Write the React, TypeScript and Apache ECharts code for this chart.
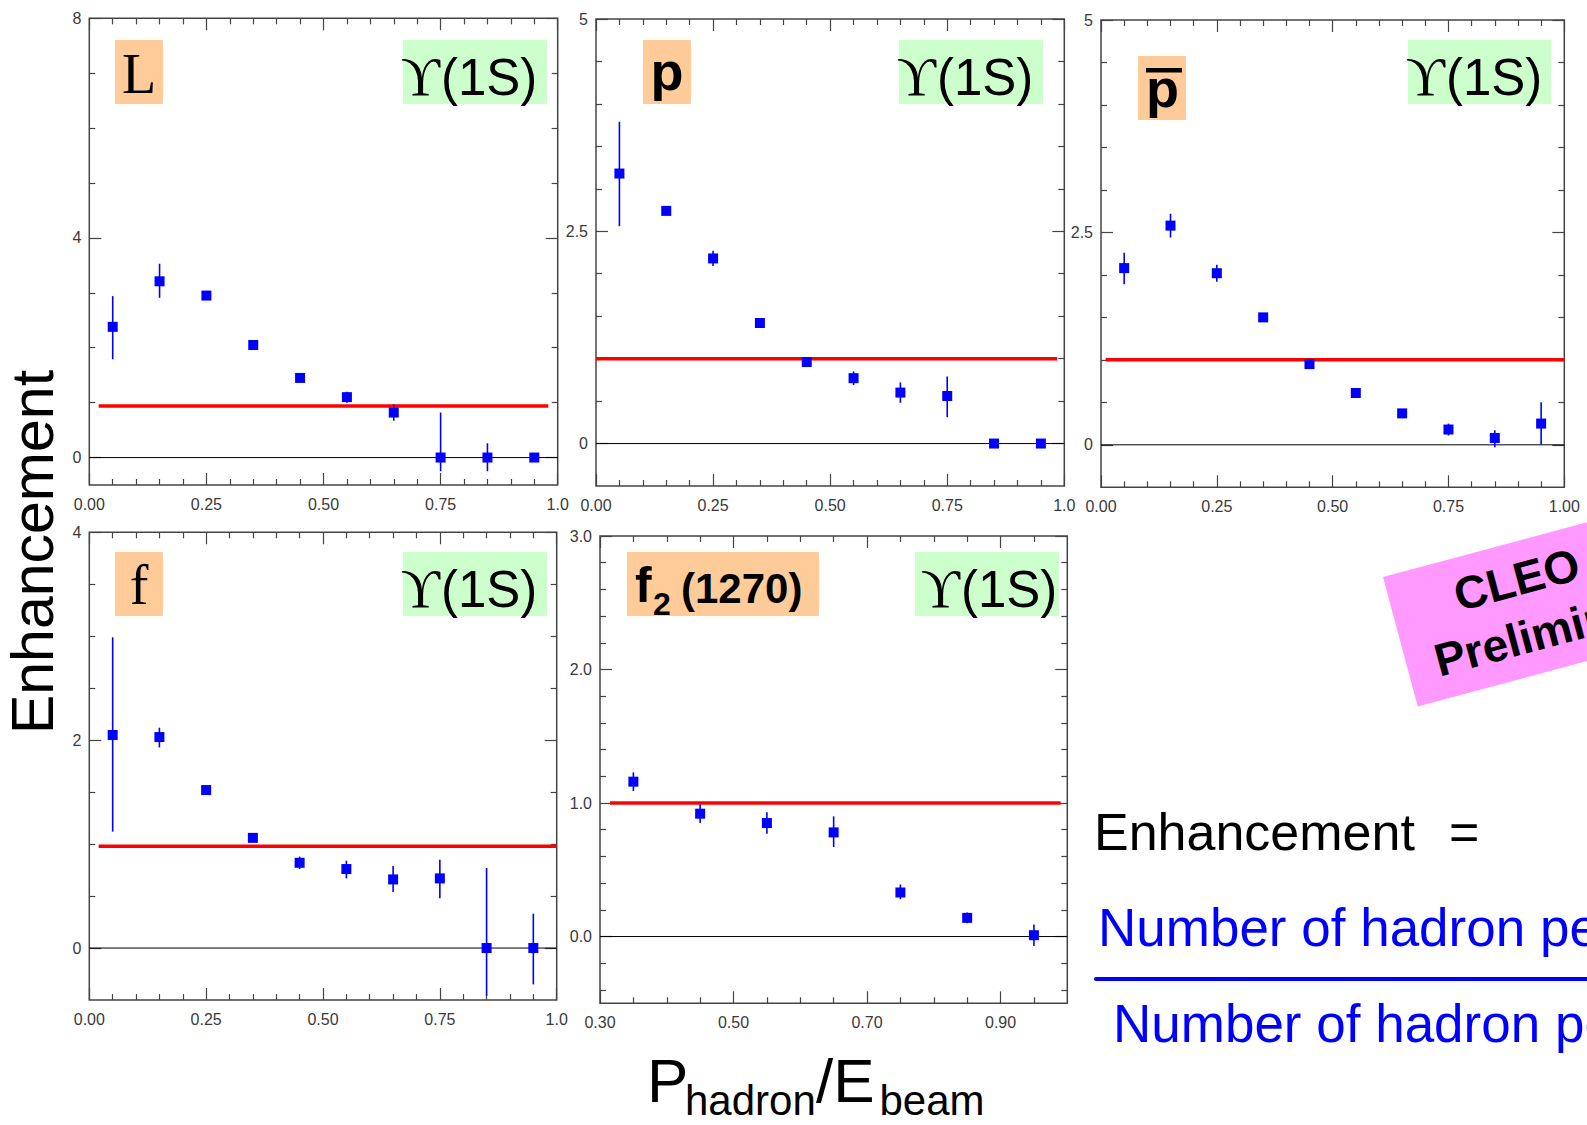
import React, { useEffect, useRef } from 'react';
import * as echarts from 'echarts';

// ---------- data ----------
const xBins = [0.05, 0.15, 0.25, 0.35, 0.45, 0.55, 0.65, 0.75, 0.85, 0.95];
const xBinsF2 = [0.35, 0.45, 0.55, 0.65, 0.75, 0.85, 0.95];

const lambdaY = [2.38, 3.21, 2.95, 2.05, 1.45, 1.1, 0.82, 0.0, 0.0, 0.0];
const lambdaHi = [2.94, 3.53, 3.03, 2.09, 1.49, 1.2, 0.97, 0.82, 0.26, 0.0];
const lambdaLo = [1.79, 2.91, 2.87, 2.01, 1.41, 1.0, 0.67, -0.25, -0.25, 0.0];

const protonY = [3.18, 2.74, 2.18, 1.42, 0.96, 0.77, 0.6, 0.56, 0.0, 0.0];
const protonHi = [3.79, 2.76, 2.27, 1.44, 0.98, 0.85, 0.72, 0.79, 0.0, 0.0];
const protonLo = [2.56, 2.72, 2.09, 1.4, 0.94, 0.69, 0.48, 0.31, 0.0, 0.0];

const pbarY = [2.08, 2.58, 2.02, 1.5, 0.95, 0.61, 0.37, 0.18, 0.08, 0.25];
const pbarHi = [2.26, 2.72, 2.12, 1.52, 0.97, 0.63, 0.39, 0.25, 0.17, 0.5];
const pbarLo = [1.89, 2.44, 1.92, 1.48, 0.93, 0.59, 0.35, 0.11, -0.03, 0.0];

const fY = [2.05, 2.03, 1.52, 1.06, 0.82, 0.76, 0.66, 0.67, 0.0, 0.0];
const fHi = [2.99, 2.12, 1.54, 1.1, 0.88, 0.84, 0.79, 0.85, 0.77, 0.33];
const fLo = [1.12, 1.93, 1.5, 1.02, 0.76, 0.67, 0.54, 0.48, -0.46, -0.35];

const f2Y = [1.16, 0.92, 0.85, 0.78, 0.33, 0.14, 0.01];
const f2Hi = [1.23, 0.99, 0.93, 0.9, 0.39, 0.18, 0.09];
const f2Lo = [1.09, 0.85, 0.77, 0.67, 0.28, 0.1, -0.07];

// reference (red) lines: [xStart, xEnd, level]
const redLambda = [0.02, 0.98, 0.94];
const redProton = [0.0, 0.985, 1.0];
const redPbar = [0.01, 1.0, 1.0];
const redF = [0.02, 1.0, 0.98];
const redF2 = [0.315, 0.99, 1.0];

// tick positions / labels
const xMajor01 = [0, 0.25, 0.5, 0.75, 1.0];
const xMinor01 = [0.05, 0.1, 0.15, 0.2, 0.3, 0.35, 0.4, 0.45, 0.55, 0.6, 0.65, 0.7, 0.8, 0.85, 0.9, 0.95];
const xMajorF2 = [0.3, 0.5, 0.7, 0.9];
const xMinorF2 = [0.35, 0.4, 0.45, 0.55, 0.6, 0.65, 0.75, 0.8, 0.85, 0.95];
const yMajorLambda = [0, 4, 8];
const yMinorLambda = [1, 2, 3, 5, 6, 7];
const yMajorP = [0, 2.5, 5];
const yMinorP = [0.5, 1, 1.5, 2, 3, 3.5, 4, 4.5];
const yMajorF = [0, 2, 4];
const yMinorF = [0.5, 1, 1.5, 2.5, 3, 3.5];
const yMajorF2 = [0, 1, 2, 3];
const yMinorF2 = [-0.4, -0.2, 0.2, 0.4, 0.6, 0.8, 1.2, 1.4, 1.6, 1.8, 2.2, 2.4, 2.6, 2.8];

// ---------- styling ----------
const SANS = '"Liberation Sans", Arial, Helvetica, sans-serif';
const SERIF = '"Liberation Serif", "DejaVu Serif", "Times New Roman", serif';
const FRAME = '#444444';
const LABEL = '#3a3a3a';
const BLUE = '#0000ff';
const ORANGE = '#ffcc99';
const GREEN = '#ccffcc';
const PINK = '#ff99ff';

const fmt2 = (v: number) => v.toFixed(2);
const fmtCut = (v: number) => (v === 1 ? '1.0' : v.toFixed(2));
const fmtPlain = (v: number) => String(v);
const fmt1 = (v: number) => v.toFixed(1);

const panels = [
  {
    rect: { left: 89.3, top: 18.3, width: 468.4, height: 466.7 },
    x: xBins, y: lambdaY, lo: lambdaLo, hi: lambdaHi, red: redLambda,
    xMin: 0, xMax: 1, yMin: -0.5, yMax: 8,
    xMajor: xMajor01, xMinor: xMinor01, yMajor: yMajorLambda, yMinor: yMinorLambda,
    xFmt: fmtCut, yFmt: fmtPlain,
  },
  {
    rect: { left: 596, top: 19, width: 468.3, height: 467 },
    x: xBins, y: protonY, lo: protonLo, hi: protonHi, red: redProton,
    xMin: 0, xMax: 1, yMin: -0.5, yMax: 5,
    xMajor: xMajor01, xMinor: xMinor01, yMajor: yMajorP, yMinor: yMinorP,
    xFmt: fmtCut, yFmt: fmtPlain,
  },
  {
    rect: { left: 1101, top: 20, width: 463.3, height: 467.3 },
    x: xBins, y: pbarY, lo: pbarLo, hi: pbarHi, red: redPbar,
    xMin: 0, xMax: 1, yMin: -0.5, yMax: 5,
    xMajor: xMajor01, xMinor: xMinor01, yMajor: yMajorP, yMinor: yMinorP,
    xFmt: fmt2, yFmt: fmtPlain,
  },
  {
    rect: { left: 89.3, top: 532.3, width: 467.4, height: 467.7 },
    x: xBins, y: fY, lo: fLo, hi: fHi, red: redF,
    xMin: 0, xMax: 1, yMin: -0.5, yMax: 4,
    xMajor: xMajor01, xMinor: xMinor01, yMajor: yMajorF, yMinor: yMinorF,
    xFmt: fmtCut, yFmt: fmtPlain,
  },
  {
    rect: { left: 600, top: 536, width: 467.3, height: 467.3 },
    x: xBinsF2, y: f2Y, lo: f2Lo, hi: f2Hi, red: redF2,
    xMin: 0.3, xMax: 1.0, yMin: -0.5, yMax: 3,
    xMajor: xMajorF2, xMinor: xMinorF2, yMajor: yMajorF2, yMinor: yMinorF2,
    xFmt: fmt2, yFmt: fmt1,
  },
];

function buildOption() {
  const grid: any[] = [];
  const xAxis: any[] = [];
  const yAxis: any[] = [];
  const series: any[] = [];

  panels.forEach((p, gi) => {
    grid.push({
      ...p.rect,
      show: true,
      borderColor: FRAME,
      borderWidth: 1.5,
      backgroundColor: '#ffffff',
      containLabel: false,
      outerBoundsMode: 'none',
    });

    const axis = (
      dim: 'x' | 'y',
      position: string,
      ticks: number[],
      len: number,
      labels: number[] | null,
      formatter: (v: number) => string,
    ) => ({
      type: 'value',
      gridIndex: gi,
      position,
      min: dim === 'x' ? p.xMin : p.yMin,
      max: dim === 'x' ? p.xMax : p.yMax,
      axisLine: { show: false, onZero: false },
      splitLine: { show: false },
      axisTick: {
        show: true,
        inside: true,
        length: len,
        customValues: ticks,
        lineStyle: { color: FRAME, width: 1.2 },
      },
      axisLabel: labels
        ? {
            show: true,
            customValues: labels,
            formatter,
            color: LABEL,
            fontSize: 16,
            fontFamily: SANS,
            margin: dim === 'x' ? 11 : 8,
            hideOverlap: false,
          }
        : { show: false },
    });

    xAxis.push(
      axis('x', 'bottom', p.xMajor, 12, p.xMajor, p.xFmt),
      axis('x', 'bottom', p.xMinor, 6, null, p.xFmt),
      axis('x', 'top', p.xMajor, 12, null, p.xFmt),
      axis('x', 'top', p.xMinor, 6, null, p.xFmt),
    );
    yAxis.push(
      axis('y', 'left', p.yMajor, 12, p.yMajor, p.yFmt),
      axis('y', 'left', p.yMinor, 6, null, p.yFmt),
      axis('y', 'right', p.yMajor, 12, null, p.yFmt),
      axis('y', 'right', p.yMinor, 6, null, p.yFmt),
    );

    const xi = gi * 4;
    const yi = gi * 4;

    series.push({
      type: 'line',
      xAxisIndex: xi,
      yAxisIndex: yi,
      data: [[p.xMin, 0], [p.xMax, 0]],
      symbol: 'none',
      silent: true,
      lineStyle: { color: '#000000', width: 1 },
      z: 1,
    });
    series.push({
      type: 'line',
      xAxisIndex: xi,
      yAxisIndex: yi,
      data: [[p.red[0], p.red[2]], [p.red[1], p.red[2]]],
      symbol: 'none',
      silent: true,
      lineStyle: { color: '#ff0000', width: 3.5 },
      z: 2,
    });
    series.push({
      type: 'custom',
      xAxisIndex: xi,
      yAxisIndex: yi,
      silent: true,
      data: p.x.map((xv, i) => [xv, p.lo[i], p.hi[i]]),
      encode: { x: 0, y: [1, 2] },
      renderItem: (_params: any, api: any) => {
        const a = api.coord([api.value(0), api.value(1)]);
        const b = api.coord([api.value(0), api.value(2)]);
        return {
          type: 'line',
          shape: { x1: a[0], y1: a[1], x2: b[0], y2: b[1] },
          style: { stroke: BLUE, lineWidth: 1.6 },
        };
      },
      z: 3,
    });
    series.push({
      type: 'scatter',
      xAxisIndex: xi,
      yAxisIndex: yi,
      data: p.x.map((xv, i) => [xv, p.y[i]]),
      symbol: 'rect',
      symbolSize: 10,
      silent: true,
      itemStyle: { color: BLUE, opacity: 1 },
      z: 4,
    });
  });

  const rect = (x: number, y: number, w: number, h: number, fill: string) => ({
    type: 'rect',
    z: 100,
    shape: { x, y, width: w, height: h },
    style: { fill },
  });
  const text = (
    x: number,
    y: number,
    t: string,
    size: number,
    family: string,
    opts: any = {},
  ) => ({
    type: 'text',
    z: 101,
    x,
    y,
    style: {
      text: t,
      fontSize: size,
      fontFamily: family,
      fontWeight: opts.weight || 'normal',
      fill: opts.fill || '#000000',
      align: opts.align || 'left',
      verticalAlign: 'middle',
    },
    ...(opts.rotation ? { rotation: opts.rotation } : {}),
  });
  const upsilon = (boxX: number, boxY: number, w: number, split: number) => [
    rect(boxX, boxY, w, 64, GREEN),
    text(split, boxY + 36.8, 'ϒ', 54, SERIF, { align: 'right' }),
    text(split + 1, boxY + 37.5, '(1S)', 51, SANS, { align: 'left' }),
  ];

  const graphic: any[] = [
    // panel 1
    rect(115, 40, 48, 64, ORANGE),
    text(139, 74, 'L', 56, SERIF, { align: 'center' }),
    ...upsilon(403, 40, 144, 440),
    // panel 2
    rect(643, 40, 48, 64, ORANGE),
    text(667, 71.3, 'p', 54, SANS, { align: 'center', weight: 'bold' }),
    ...upsilon(899, 40, 144, 936),
    // panel 3
    rect(1138, 56, 48, 64, ORANGE),
    text(1162.5, 88, 'p', 54, SANS, { align: 'center', weight: 'bold' }),
    { type: 'rect', z: 102, shape: { x: 1146, y: 68, width: 36, height: 4.5 }, style: { fill: '#000000' } },
    ...upsilon(1408, 40, 143, 1445),
    // panel 4
    rect(115, 552, 48, 64, ORANGE),
    text(139, 585.4, 'f', 56, SERIF, { align: 'center' }),
    ...upsilon(403, 552, 144, 440),
    // panel 5
    rect(627, 552, 192, 64, ORANGE),
    text(635, 585.4, 'f', 50, SANS, { weight: 'bold' }),
    text(653, 603.9, '2', 32, SANS, { weight: 'bold' }),
    text(681, 588.1, '(1270)', 42, SANS, { weight: 'bold' }),
    ...upsilon(915, 552, 144, 960),
    // shared y title
    text(33, 552, 'Enhancement', 59, SANS, { align: 'center', rotation: Math.PI / 2 }),
    // shared x title
    text(647, 1080.5, 'P', 62, SANS),
    text(685, 1100.5, 'hadron', 42, SANS),
    text(816, 1080.5, '/E', 62, SANS),
    text(879.5, 1100.5, 'beam', 42, SANS),
    // preliminary stamp
    {
      type: 'group',
      x: 1383,
      y: 577,
      rotation: (15 * Math.PI) / 180,
      z: 100,
      children: [
        { type: 'rect', z: 100, shape: { x: 0, y: 0, width: 308, height: 134 }, style: { fill: PINK } },
        text(154, 37, 'CLEO III', 46, SANS, { align: 'center', weight: 'bold' }),
        text(154, 95, 'Preliminary', 46, SANS, { align: 'center', weight: 'bold' }),
      ],
    },
    // definition
    text(1094, 832, 'Enhancement', 52, SANS),
    text(1449, 832, '=', 52, SANS),
    text(1098, 927, 'Number of hadron per ϒ(1S) decay', 53, SANS, { fill: BLUE }),
    { type: 'rect', z: 100, shape: { x: 1094, y: 977, width: 520, height: 4, r: 2 }, style: { fill: BLUE } },
    text(1113, 1023.7, 'Number of hadron per continuum event', 53, SANS, { fill: BLUE }),
  ];

  return {
    animation: false,
    backgroundColor: '#ffffff',
    grid,
    xAxis,
    yAxis,
    series,
    graphic,
  };
}

export default function App() {
  const ref = useRef<HTMLDivElement>(null);
  useEffect(() => {
    document.body.style.margin = '0';
    const chart = echarts.init(ref.current as HTMLDivElement, null, { renderer: 'svg' });
    chart.setOption(buildOption() as any);
    return () => chart.dispose();
  }, []);
  return (
    <div
      ref={ref}
      style={{ position: 'absolute', left: 0, top: 0, width: 1587, height: 1125, background: '#ffffff' }}
    />
  );
}
